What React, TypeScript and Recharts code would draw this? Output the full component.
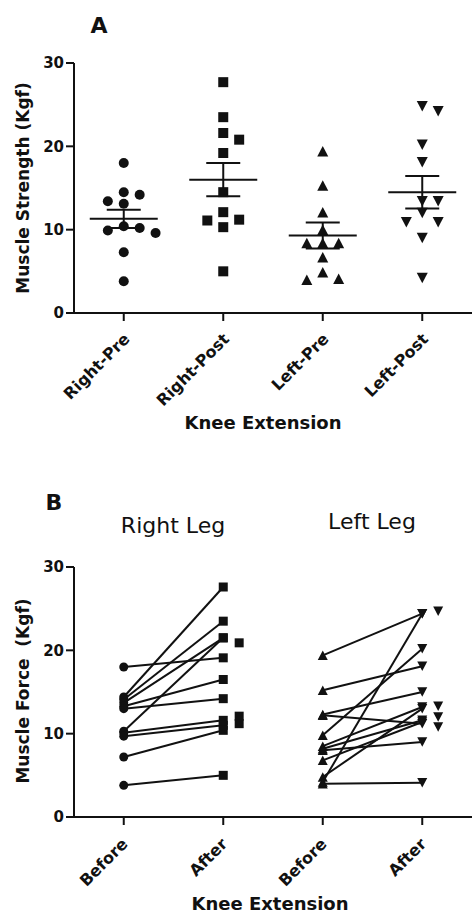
import { ScatterChart, Scatter, XAxis, YAxis, ErrorBar } from 'recharts';

// Panel A - individual values per group
const groupsA = ['Right-Pre', 'Right-Post', 'Left-Pre', 'Left-Post'];
const rightPre = [18.0, 14.5, 14.2, 13.4, 13.1, 10.4, 10.2, 9.9, 9.6, 7.3, 3.8];
const rightPost = [27.7, 23.5, 21.6, 20.8, 19.2, 14.5, 12.1, 11.2, 11.1, 10.3, 5.0];
const leftPre = [19.4, 15.3, 12.1, 10.0, 8.4, 8.4, 8.4, 6.7, 4.9, 4.1, 4.0];
const leftPost = [24.8, 24.2, 20.2, 18.1, 13.4, 13.4, 12.0, 10.9, 10.9, 9.0, 4.2];
const meansA = [11.3, 16.0, 9.3, 14.5];
const semA = [1.1, 2.0, 1.55, 1.95];
const yTicks = [0, 10, 20, 30];

// Panel B - paired before/after per subject
const phasesB = ['Before', 'After', 'Before', 'After'];
const legsB = ['Right Leg', 'Left Leg'];
const rightBefore = [18.0, 14.4, 14.1, 13.7, 13.3, 13.0, 10.3, 10.1, 9.7, 7.2, 3.8];
const rightAfter = [19.1, 27.6, 23.5, 21.5, 16.5, 14.2, 21.5, 11.6, 11.0, 10.4, 5.0];
const rightAfterExtra = [20.9, 12.1, 11.2];
const leftBefore = [19.4, 15.2, 12.3, 12.2, 9.8, 8.5, 8.2, 8.0, 6.8, 4.8, 4.2, 4.0];
const leftAfter = [24.4, 18.1, 15.0, 11.2, 20.2, 13.2, 11.6, 9.0, 11.4, 13.0, 24.4, 4.1];
const leftAfterExtra = [24.7, 13.3, 12.0, 10.8];

const FONT = '"DejaVu Sans", sans-serif';
const INK = '#111';

type Kind = 'circle' | 'square' | 'up' | 'down';
type Pt = { x: number; y: number };

function marker(kind: Kind, s: number) {
  return (props: any) => {
    const { cx, cy } = props;
    if (cx == null || cy == null) return <g />;
    if (kind === 'circle') return <circle cx={cx} cy={cy} r={s / 2} fill={INK} />;
    if (kind === 'square')
      return <rect x={cx - s / 2} y={cy - s / 2} width={s} height={s} fill={INK} />;
    const h = s * 0.95;
    const tip = kind === 'up' ? cy - h / 2 : cy + h / 2;
    const base = kind === 'up' ? cy + h / 2 : cy - h / 2;
    return (
      <polygon
        points={`${cx},${tip} ${cx + s / 2},${base} ${cx - s / 2},${base}`}
        fill={INK}
      />
    );
  };
}

// push overlapping values sideways (0, +1, -1, +2, ...) like a column scatter
function dodge(values: number[], center: number, gap: number, placed: Pt[] = [], step = 0.08) {
  const taken = placed.map((p) => ({ off: p.x - center, v: p.y }));
  const out: Pt[] = [];
  [...values]
    .sort((a, b) => b - a)
    .forEach((v) => {
      for (let k = 0; k < 30; k++) {
        const off = Math.ceil(k / 2) * (k % 2 ? 1 : -1) * step;
        const hit = taken.some(
          (t) => Math.abs(t.v - v) < gap && Math.abs(t.off - off) < 2 * step - 1e-6
        );
        if (!hit) {
          taken.push({ off, v });
          out.push({ x: center + off, y: v });
          break;
        }
      }
    });
  return out;
}

const at = (values: number[], x: number): Pt[] => values.map((y) => ({ x, y }));

const XTick = (props: any) => {
  const { x, y, payload, labels, dx, dy } = props;
  const ax = x + dx;
  const ay = y + dy;
  return (
    <text
      x={ax}
      y={ay}
      transform={`rotate(-45 ${ax} ${ay})`}
      textAnchor="end"
      fontFamily={FONT}
      fontWeight="bold"
      fontSize={16}
      fill={INK}
    >
      {labels[payload.value]}
    </text>
  );
};

const YTick = (props: any) => {
  const { x, y, payload } = props;
  return (
    <text
      x={x}
      y={y}
      dy="0.36em"
      textAnchor="end"
      fontFamily={FONT}
      fontWeight="bold"
      fontSize={15}
      fill={INK}
    >
      {payload.value}
    </text>
  );
};

const MeanLine = (props: any) => {
  const { cx, cy } = props;
  if (cx == null) return <g />;
  return <line x1={cx - 34} x2={cx + 34} y1={cy} y2={cy} stroke={INK} strokeWidth={2} />;
};

const axisStyle = { stroke: INK, strokeWidth: 2 };

const text = (
  s: string,
  left: number,
  top: number,
  size: number,
  bold = true,
  rotate = false
) => (
  <div
    style={{
      position: 'absolute',
      left,
      top,
      transform: `translate(-50%, -50%)${rotate ? ' rotate(-90deg)' : ''}`,
      whiteSpace: 'pre',
      fontFamily: FONT,
      fontWeight: bold ? 'bold' : 'normal',
      fontSize: size,
      color: INK,
      lineHeight: 1,
    }}
  >
    {s}
  </div>
);

function PanelA() {
  const meanData = meansA.map((m, i) => ({ x: i, y: m, sem: semA[i] }));
  return (
    <ScatterChart width={472} height={450} margin={{ top: 63, right: 0, bottom: 0, left: 0 }}>
      <XAxis
        type="number"
        dataKey="x"
        domain={[-0.5, 3.5]}
        ticks={[0, 1, 2, 3]}
        interval={0}
        allowDataOverflow
        height={137}
        tickSize={8}
        axisLine={axisStyle}
        tickLine={axisStyle}
        tick={(p: any) => <XTick {...p} labels={groupsA} dx={7} dy={17} />}
      />
      <YAxis
        type="number"
        dataKey="y"
        domain={[0, 30]}
        ticks={yTicks}
        interval={0}
        width={74}
        tickSize={8}
        axisLine={axisStyle}
        tickLine={axisStyle}
        tick={(p: any) => <YTick {...p} />}
      />
      <Scatter data={dodge(rightPre, 0, 1.2)} shape={marker('circle', 10)} isAnimationActive={false} />
      <Scatter data={dodge(rightPost, 1, 1.2)} shape={marker('square', 10)} isAnimationActive={false} />
      <Scatter data={dodge(leftPre, 2, 1.2)} shape={marker('up', 11)} isAnimationActive={false} />
      <Scatter data={dodge(leftPost, 3, 1.2)} shape={marker('down', 11)} isAnimationActive={false} />
      <Scatter data={meanData} shape={MeanLine} isAnimationActive={false}>
        <ErrorBar dataKey="sem" direction="y" width={17} stroke={INK} strokeWidth={2} />
      </Scatter>
    </ScatterChart>
  );
}

function PanelB() {
  const rAfter = at(rightAfter, 1);
  const lAfter = at(leftAfter, 3);
  return (
    <ScatterChart width={472} height={443} margin={{ top: 97, right: 0, bottom: 0, left: 0 }}>
      <XAxis
        type="number"
        dataKey="x"
        domain={[-0.5, 3.5]}
        ticks={[0, 1, 2, 3]}
        interval={0}
        allowDataOverflow
        height={96}
        tickSize={8}
        axisLine={axisStyle}
        tickLine={axisStyle}
        tick={(p: any) => <XTick {...p} labels={phasesB} dx={5} dy={18} />}
      />
      <YAxis
        type="number"
        dataKey="y"
        domain={[0, 30]}
        ticks={yTicks}
        interval={0}
        width={74}
        tickSize={8}
        axisLine={axisStyle}
        tickLine={axisStyle}
        tick={(p: any) => <YTick {...p} />}
      />
      {rightBefore.map((b, i) => (
        <Scatter
          key={'r' + i}
          data={[{ x: 0, y: b }, { x: 1, y: rightAfter[i] }]}
          line={{ stroke: INK, strokeWidth: 2 }}
          shape={() => <g />}
          isAnimationActive={false}
        />
      ))}
      {leftBefore.map((b, i) => (
        <Scatter
          key={'l' + i}
          data={[{ x: 2, y: b }, { x: 3, y: leftAfter[i] }]}
          line={{ stroke: INK, strokeWidth: 2 }}
          shape={() => <g />}
          isAnimationActive={false}
        />
      ))}
      <Scatter data={at(rightBefore, 0)} shape={marker('circle', 9)} isAnimationActive={false} />
      <Scatter data={rAfter} shape={marker('square', 9)} isAnimationActive={false} />
      <Scatter data={dodge(rightAfterExtra, 1, 0.9, rAfter)} shape={marker('square', 9)} isAnimationActive={false} />
      <Scatter data={at(leftBefore, 2)} shape={marker('up', 10)} isAnimationActive={false} />
      <Scatter data={lAfter} shape={marker('down', 10)} isAnimationActive={false} />
      <Scatter data={dodge(leftAfterExtra, 3, 0.9, lAfter)} shape={marker('down', 10)} isAnimationActive={false} />
    </ScatterChart>
  );
}

export default function App() {
  return (
    <div style={{ position: 'absolute', left: 0, top: 0, width: 472, height: 913, background: '#fff' }}>
      <div style={{ position: 'absolute', left: 0, top: 0 }}>
        <PanelA />
      </div>
      <div style={{ position: 'absolute', left: 0, top: 470 }}>
        <PanelB />
      </div>
      {text('A', 99, 26, 22)}
      {text('Muscle Strength (Kgf)', 23, 188, 17, true, true)}
      {text('Knee Extension', 263, 423, 18)}
      {text('B', 54, 503, 22)}
      {text(legsB[0], 173, 526, 22, false)}
      {text(legsB[1], 372, 522, 22, false)}
      {text('Muscle Force  (Kgf)', 23, 691, 17, true, true)}
      {text('Knee Extension', 270, 904, 18)}
    </div>
  );
}
